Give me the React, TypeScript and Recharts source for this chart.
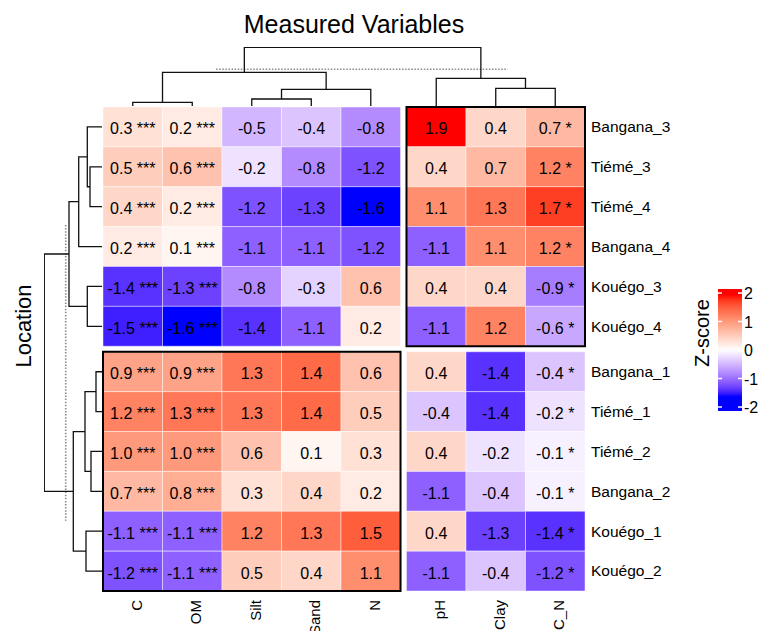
import React from 'react';
import { ScatterChart, Scatter, XAxis, YAxis, ReferenceArea } from 'recharts';

const FONT = '"Liberation Sans", Arial, Helvetica, sans-serif';

// ---------------- data ----------------
const rowNames = ['Bangana_3', 'Tiémé_3', 'Tiémé_4', 'Bangana_4', 'Kouégo_3', 'Kouégo_4', 'Bangana_1', 'Tiémé_1', 'Tiémé_2', 'Bangana_2', 'Kouégo_1', 'Kouégo_2'];
const colNames = ['C', 'OM', 'Silt', 'Sand', 'N', 'pH', 'Clay', 'C_N'];
const colStars = ['***', '***', '', '', '', '', '', '*'];

const C = [0.3, 0.5, 0.4, 0.2, -1.4, -1.5, 0.9, 1.2, 1.0, 0.7, -1.1, -1.2];
const OM = [0.2, 0.6, 0.2, 0.1, -1.3, -1.6, 0.9, 1.3, 1.0, 0.8, -1.1, -1.1];
const Silt = [-0.5, -0.2, -1.2, -1.1, -0.8, -1.4, 1.3, 1.3, 0.6, 0.3, 1.2, 0.5];
const Sand = [-0.4, -0.8, -1.3, -1.1, -0.3, -1.1, 1.4, 1.4, 0.1, 0.4, 1.3, 0.4];
const N = [-0.8, -1.2, -1.6, -1.2, 0.6, 0.2, 0.6, 0.5, 0.3, 0.2, 1.5, 1.1];
const pH = [1.9, 0.4, 1.1, -1.1, 0.4, -1.1, 0.4, -0.4, 0.4, -1.1, 0.4, -1.1];
const Clay = [0.4, 0.7, 1.3, 1.1, 0.4, 1.2, -1.4, -1.4, -0.2, -0.4, -1.3, -0.4];
const C_N = [0.7, 1.2, 1.7, 1.2, -0.9, -0.6, -0.4, -0.2, -0.1, -0.1, -1.4, -1.2];
const colValues = [C, OM, Silt, Sand, N, pH, Clay, C_N];

const rowGroups = [0, 0, 0, 0, 0, 0, 1, 1, 1, 1, 1, 1];
const colGroups = [0, 0, 0, 0, 0, 1, 1, 1];
const borderedBlocks = [
  { rowGroup: 0, colGroup: 1 },
  { rowGroup: 1, colGroup: 0 },
];

// dendrograms: [childA, childB, height]; strings are leaves, numbers are earlier merges
type Ref = string | number;
const rowMerges: [Ref, Ref, number][] = [
  ['Tiémé_3', 'Tiémé_4', 12],
  ['Bangana_3', 0, 14.7],
  [1, 'Bangana_4', 23.3],
  ['Kouégo_3', 'Kouégo_4', 14.7],
  [2, 3, 33],
  ['Bangana_1', 'Tiémé_1', 6],
  ['Tiémé_2', 'Bangana_2', 11],
  [5, 6, 17],
  ['Kouégo_1', 'Kouégo_2', 16],
  [7, 8, 28.7],
  [4, 9, 57.7],
];
const colMerges: [Ref, Ref, number][] = [
  ['C', 'OM', 3.7],
  ['Silt', 'Sand', 7],
  [1, 'N', 16.7],
  [0, 2, 33.7],
  ['Clay', 'C_N', 17.7],
  ['pH', 4, 27.7],
  [3, 5, 58.7],
];
const rowCut = { h: 36.3, from: 2.96, to: 10.38 };
const colCut = { h: 36.7, from: 1.9, to: 6.8 };

const legendTicks = [2, 1, 0, -1, -2];
const colorBreaks = [-1.6, 0, 1.9];
const colorStops = ['#0000FF', '#FFFFFF', '#FF0000'];

// ---------------- colour (LAB interpolation) ----------------
const hexToRgb = (h: string) => [parseInt(h.slice(1, 3), 16), parseInt(h.slice(3, 5), 16), parseInt(h.slice(5, 7), 16)];
const toLin = (c: number) => { const s = c / 255; return s <= 0.04045 ? s / 12.92 : Math.pow((s + 0.055) / 1.055, 2.4); };
const fromLin = (v: number) => { const x = Math.min(1, Math.max(0, v)); const s = x <= 0.0031308 ? 12.92 * x : 1.055 * Math.pow(x, 1 / 2.4) - 0.055; return Math.round(s * 255); };
const Xn = 0.95047, Zn = 1.08883;
const fLab = (t: number) => (t > 216 / 24389 ? Math.cbrt(t) : ((24389 / 27) * t + 16) / 116);
const fInv = (t: number) => (t * t * t > 216 / 24389 ? t * t * t : (116 * t - 16) / (24389 / 27));
function rgbToLab(hex: string) {
  const [r, g, b] = hexToRgb(hex).map(toLin);
  const X = (0.4124564 * r + 0.3575761 * g + 0.1804375 * b) / Xn;
  const Y = 0.2126729 * r + 0.7151522 * g + 0.072175 * b;
  const Z = (0.0193339 * r + 0.119192 * g + 0.9503041 * b) / Zn;
  const fx = fLab(X), fy = fLab(Y), fz = fLab(Z);
  return [116 * fy - 16, 500 * (fx - fy), 200 * (fy - fz)];
}
function labToCss([L, a, b]: number[]) {
  const fy = (L + 16) / 116, fx = fy + a / 500, fz = fy - b / 200;
  const X = Xn * fInv(fx), Y = fInv(fy), Z = Zn * fInv(fz);
  const r = 3.2404542 * X - 1.5371385 * Y - 0.4985314 * Z;
  const g = -0.969266 * X + 1.8760108 * Y + 0.041556 * Z;
  const bl = 0.0556434 * X - 0.2040259 * Y + 1.0572252 * Z;
  return `rgb(${fromLin(r)},${fromLin(g)},${fromLin(bl)})`;
}
const labStops = colorStops.map(rgbToLab);
function colorFor(v: number) {
  const x = Math.min(colorBreaks[2], Math.max(colorBreaks[0], v));
  const seg = x <= colorBreaks[1] ? 0 : 1;
  const t = (x - colorBreaks[seg]) / (colorBreaks[seg + 1] - colorBreaks[seg]);
  const A = labStops[seg], B = labStops[seg + 1];
  return labToCss([0, 1, 2].map((k) => A[k] + (B[k] - A[k]) * t));
}

// ---------------- layout helpers ----------------
const GAP_X = 0.1;
const GAP_Y = 0.14;
const colPos = colNames.map((_, j) => j + 0.5 + colGroups[j] * GAP_X);
const rowPos = rowNames.map((_, i) => i + 0.5 + rowGroups[i] * GAP_Y);
const xMax = colNames.length + GAP_X;
const yMax = rowNames.length + GAP_Y;
const nearest = (arr: number[], v: number) => {
  let best = 0;
  arr.forEach((a, k) => { if (Math.abs(a - v) < Math.abs(arr[best] - v)) best = k; });
  return best;
};

const cells = rowNames.flatMap((_, i) =>
  colNames.map((__, j) => {
    const v = colValues[j][i];
    return {
      x: colPos[j],
      y: rowPos[i],
      v,
      label: v.toFixed(1) + (colStars[j] ? ' ' + colStars[j] : ''),
    };
  })
);

const blocks = borderedBlocks.map(({ rowGroup, colGroup }) => {
  const xs = colPos.filter((_, j) => colGroups[j] === colGroup);
  const ys = rowPos.filter((_, i) => rowGroups[i] === rowGroup);
  return { x1: Math.min(...xs) - 0.5, x2: Math.max(...xs) + 0.5, y1: Math.min(...ys) - 0.5, y2: Math.max(...ys) + 0.5 };
});

function buildLinks(merges: [Ref, Ref, number][], leaves: string[], pos: number[]) {
  const nodeP: number[] = [];
  const nodeH: number[] = [];
  const get = (r: Ref) => (typeof r === 'string' ? { p: pos[leaves.indexOf(r)], h: 0 } : { p: nodeP[r], h: nodeH[r] });
  return merges.map(([a, b, h], k) => {
    const A = get(a), B = get(b);
    nodeP[k] = (A.p + B.p) / 2;
    nodeH[k] = h;
    return [
      { p: A.p, h: A.h },
      { p: A.p, h },
      { p: B.p, h },
      { p: B.p, h: B.h },
    ];
  });
}
const colLinks = buildLinks(colMerges, colNames, colPos).map((pts) => pts.map((q) => ({ x: q.p, y: q.h })));
const rowLinks = buildLinks(rowMerges, rowNames, rowPos).map((pts) => pts.map((q) => ({ x: q.h, y: q.p })));
const colCutPts = [{ x: colCut.from, y: colCut.h }, { x: colCut.to, y: colCut.h }];
const rowCutPts = [{ x: rowCut.h, y: rowCut.from }, { x: rowCut.h, y: rowCut.to }];

const noShape = () => <g />;
const linkLine = { stroke: '#111', strokeWidth: 1.3 };
const cutLine = { stroke: '#8a8a8a', strokeWidth: 1.6, strokeDasharray: '1.5 1.6' };

const RowTick = (p: any) => (
  <text x={p.x} y={p.y} dy={5.4} textAnchor="start" fontSize={15.5} fontFamily={FONT} fill="#000">
    {rowNames[nearest(rowPos, p.payload.value)]}
  </text>
);
const ColTick = (p: any) => (
  <text transform={`translate(${p.x + 9},${p.y}) rotate(-90)`} textAnchor="end" fontSize={15} fontFamily={FONT} fill="#000">
    {colNames[nearest(colPos, p.payload.value)]}
  </text>
);
const CellText = (p: any) => (
  <text x={p.cx} y={p.cy} dy={7.5} textAnchor="middle" fontSize={16} fontFamily={FONT} fill="#000">
    {p.payload.label}
  </text>
);

// legend geometry
const LEG = { x: 718, w: 24, yMid: 350, pxPerUnit: 28.5, ext: 2.14 };
const legendY = (v: number) => LEG.yMid - v * LEG.pxPerUnit;
const gradStops = Array.from({ length: 44 }, (_, k) => {
  const v = LEG.ext - (k / 43) * (2 * LEG.ext);
  return { offset: k / 43, color: colorFor(v) };
});

export default function App() {
  return (
    <div style={{ position: 'absolute', left: 0, top: 0, width: 763, height: 631, background: '#fff', fontFamily: FONT }}>
      {/* heatmap body */}
      <div style={{ position: 'absolute', left: 0, top: 0 }}>
        <ScatterChart width={763} height={631} margin={{ top: 107, right: 78, bottom: 0, left: 103 }}>
          <XAxis type="number" dataKey="x" domain={[0, xMax]} allowDataOverflow ticks={colPos} interval={0}
            tickLine={false} axisLine={false} tickSize={0} tickMargin={9} height={40} tick={ColTick} />
          <YAxis type="number" dataKey="y" domain={[0, yMax]} allowDataOverflow reversed orientation="right" ticks={rowPos}
            interval={0} tickLine={false} axisLine={false} tickSize={0} tickMargin={6} width={100} tick={RowTick} />
          {cells.map((c, k) => (
            <ReferenceArea key={'c' + k} x1={c.x - 0.5} x2={c.x + 0.5} y1={c.y - 0.5} y2={c.y + 0.5}
              fill={colorFor(c.v)} fillOpacity={1} stroke="#ffffff" strokeOpacity={0.55} strokeWidth={0.8} ifOverflow="visible" />
          ))}
          {blocks.map((b, k) => (
            <ReferenceArea key={'b' + k} x1={b.x1} x2={b.x2} y1={b.y1} y2={b.y2}
              fill="none" fillOpacity={0} stroke="#000" strokeWidth={2} ifOverflow="visible" />
          ))}
          <Scatter data={cells} isAnimationActive={false} shape={CellText} />
        </ScatterChart>
      </div>

      {/* column dendrogram */}
      <div style={{ position: 'absolute', left: 0, top: 0 }}>
        <ScatterChart width={763} height={107} margin={{ top: 47, right: 178, bottom: 1, left: 103 }}>
          <XAxis type="number" dataKey="x" domain={[0, xMax]} allowDataOverflow hide />
          <YAxis type="number" dataKey="y" domain={[0, 59]} allowDataOverflow hide />
          <Scatter data={colCutPts} line={cutLine} shape={noShape} isAnimationActive={false} />
          {colLinks.map((pts, k) => (
            <Scatter key={'cl' + k} data={pts} line={linkLine} shape={noShape} isAnimationActive={false} />
          ))}
        </ScatterChart>
      </div>

      {/* row dendrogram */}
      <div style={{ position: 'absolute', left: 0, top: 0 }}>
        <ScatterChart width={103} height={631} margin={{ top: 107, right: 1, bottom: 40, left: 44 }}>
          <XAxis type="number" dataKey="x" domain={[0, 58]} allowDataOverflow reversed hide />
          <YAxis type="number" dataKey="y" domain={[0, yMax]} allowDataOverflow reversed hide />
          <Scatter data={rowCutPts} line={cutLine} shape={noShape} isAnimationActive={false} />
          {rowLinks.map((pts, k) => (
            <Scatter key={'rl' + k} data={pts} line={linkLine} shape={noShape} isAnimationActive={false} />
          ))}
        </ScatterChart>
      </div>

      {/* titles and legend */}
      <svg width={763} height={631} style={{ position: 'absolute', left: 0, top: 0, pointerEvents: 'none' }}>
        <defs>
          <linearGradient id="zgrad" x1="0" y1="0" x2="0" y2="1">
            {gradStops.map((s, k) => (
              <stop key={k} offset={s.offset} stopColor={s.color} />
            ))}
          </linearGradient>
        </defs>
        <text x={354} y={33} textAnchor="middle" fontSize={25} fontFamily={FONT} fill="#000">Measured Variables</text>
        <text transform="translate(31,326) rotate(-90)" textAnchor="middle" fontSize={22} fontFamily={FONT} fill="#000">Location</text>
        <text transform="translate(709,333) rotate(-90)" textAnchor="middle" fontSize={20} fontFamily={FONT} fill="#000">Z-score</text>
        <rect x={LEG.x} y={legendY(LEG.ext)} width={LEG.w} height={2 * LEG.ext * LEG.pxPerUnit} fill="url(#zgrad)" />
        {legendTicks.map((t) => (
          <g key={t}>
            <line x1={LEG.x} x2={LEG.x + 4} y1={legendY(t)} y2={legendY(t)} stroke="#fff" strokeWidth={1.5} />
            <line x1={LEG.x + LEG.w - 4} x2={LEG.x + LEG.w} y1={legendY(t)} y2={legendY(t)} stroke="#fff" strokeWidth={1.5} />
            <text x={LEG.x + LEG.w + 2} y={legendY(t)} dy={6} fontSize={16} fontFamily={FONT} fill="#000">{t}</text>
          </g>
        ))}
      </svg>
    </div>
  );
}
